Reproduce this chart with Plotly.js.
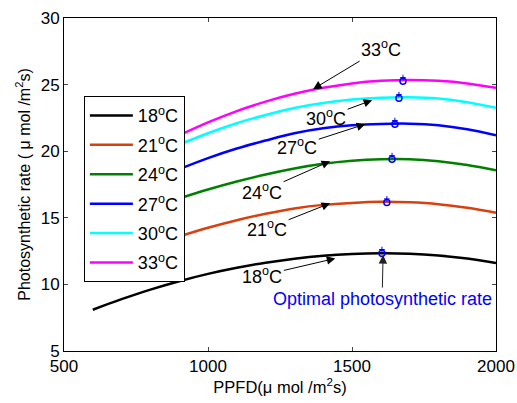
<!DOCTYPE html>
<html>
<head>
<meta charset="utf-8">
<script src="https://cdn.plot.ly/plotly-3.0.1.min.js"></script>
<style>html,body{margin:0;padding:0;background:#fff;}#chart{width:517px;height:403px;}</style>
</head>
<body>
<div id="chart"></div>
<script>
// PPFD values
const ppfd18 = [600, 700, 800, 900, 1000, 1100, 1200, 1300, 1400, 1500, 1600, 1700, 1800, 1900, 2000];
const ppfdHi = [900, 1000, 1100, 1200, 1300, 1400, 1500, 1600, 1700, 1800, 1900, 2000];

// Photosynthetic rate series
const rate18 = [8.10, 8.89, 9.61, 10.24, 10.79, 11.25, 11.63, 11.93, 12.15, 12.28, 12.33, 12.30, 12.17, 11.94, 11.60];
const rate21 = [13.60, 14.25, 14.82, 15.30, 15.70, 15.97, 16.12, 16.20, 16.16, 16.02, 15.75, 15.38];
const rate24 = [16.45, 17.12, 17.72, 18.25, 18.70, 19.05, 19.28, 19.40, 19.40, 19.25, 18.97, 18.57];
const rate27 = [18.65, 19.48, 20.20, 20.80, 21.35, 21.72, 21.95, 22.05, 22.07, 21.95, 21.65, 21.20];
const rate30 = [20.50, 21.35, 22.10, 22.72, 23.25, 23.62, 23.88, 24.02, 24.05, 23.95, 23.68, 23.26];
const rate33 = [21.19, 22.16, 23.01, 23.72, 24.31, 24.76, 25.09, 25.28, 25.35, 25.28, 25.09, 24.76];

const seriesNames = ['18<sup>o</sup>C', '21<sup>o</sup>C', '24<sup>o</sup>C', '27<sup>o</sup>C', '30<sup>o</sup>C', '33<sup>o</sup>C'];
const seriesColors = ['#000000', '#D9400F', '#008000', '#0000FF', '#00FFFF', '#FF00FF'];

// Optimal points
const optX = [1604, 1621, 1639, 1649, 1663, 1677];
const optY = [12.33, 16.15, 19.40, 22.03, 23.98, 25.26];
const optStarY = [12.62, 16.42, 19.67, 22.30, 24.25, 25.53];

// Annotation tips (data coords) and labels
const labelText = ['33<sup>o</sup>C', '30<sup>o</sup>C', '27<sup>o</sup>C', '24<sup>o</sup>C', '21<sup>o</sup>C', '18<sup>o</sup>C'];
const tipX = [1365, 1570, 1546, 1424, 1424, 1442];
const tipY = [24.66, 23.83, 22.03, 19.25, 16.09, 11.95];

const xs = [ppfd18, ppfdHi, ppfdHi, ppfdHi, ppfdHi, ppfdHi];
const ys = [rate18, rate21, rate24, rate27, rate30, rate33];

const traces = ys.map((y, i) => ({
  x: xs[i], y: y, type: 'scatter', mode: 'lines',
  name: seriesNames[i], legendgroup: 'g' + i,
  line: {color: seriesColors[i], width: 2.5, shape: 'spline'}
}));
traces.push({x: optX, y: optY, type: 'scatter', mode: 'markers', showlegend: false,
  marker: {symbol: 'circle-open', size: 6, color: '#0000FF', line: {width: 1.5, color: '#0000FF'}}});
traces.push({x: optX, y: optStarY, type: 'scatter', mode: 'markers', showlegend: false,
  marker: {symbol: 'cross-thin-open', size: 4, color: '#0000FF', line: {width: 1, color: '#0000FF'}}});

const offsets = [[68, -41], [-46, 17], [-68, 22], [-68, 30], [-63, 25], [-73, 17]];
const annotations = labelText.map((t, i) => ({
  x: tipX[i], y: tipY[i], xref: 'x', yref: 'y', text: t, showarrow: true,
  ax: offsets[i][0], ay: offsets[i][1], arrowhead: 2, arrowsize: 1.7, arrowwidth: 1,
  arrowcolor: '#000', font: {size: 18, color: '#000'}
}));
annotations.push({x: 1608, y: 12.2, xref: 'x', yref: 'y', text: 'Optimal photosynthetic rate', showarrow: true,
  ax: -1, ay: 44, arrowhead: 2, arrowsize: 1.7, arrowwidth: 1, arrowcolor: '#222',
  font: {size: 18, color: '#0000FF'}});

const layout = {
  width: 517, height: 403,
  margin: {l: 64, r: 21, t: 18, b: 52},
  paper_bgcolor: '#fff', plot_bgcolor: '#fff',
  font: {family: '"Liberation Sans", Arial, sans-serif', size: 16, color: '#000'},
  showlegend: true,
  legend: {x: 0.046, y: 0.765, xanchor: 'left', yanchor: 'top', bgcolor: '#fff',
    bordercolor: '#000', borderwidth: 1, font: {size: 18}, itemwidth: 43, tracegroupgap: 3},
  xaxis: {range: [500, 2000], tickvals: [500, 1000, 1500, 2000], ticks: 'inside', ticklen: 4,
    showline: true, mirror: 'ticks', linecolor: '#000', linewidth: 1, showgrid: false, zeroline: false,
    tickfont: {size: 17},
    title: {text: 'PPFD(\u03bc mol /m<sup>2</sup>s)', font: {size: 16.5}, standoff: 4}},
  yaxis: {range: [5, 30], tickvals: [5, 10, 15, 20, 25, 30], ticks: 'inside', ticklen: 4,
    showline: true, mirror: 'ticks', linecolor: '#000', linewidth: 1, showgrid: false, zeroline: false,
    tickfont: {size: 17},
    title: {text: 'Photosynthetic rate ( \u03bc mol /m<sup>2</sup>s)', font: {size: 16}, standoff: 6}},
  annotations: annotations
};

Plotly.newPlot('chart', traces, layout, {displayModeBar: false, staticPlot: true});
</script>
</body>
</html>
